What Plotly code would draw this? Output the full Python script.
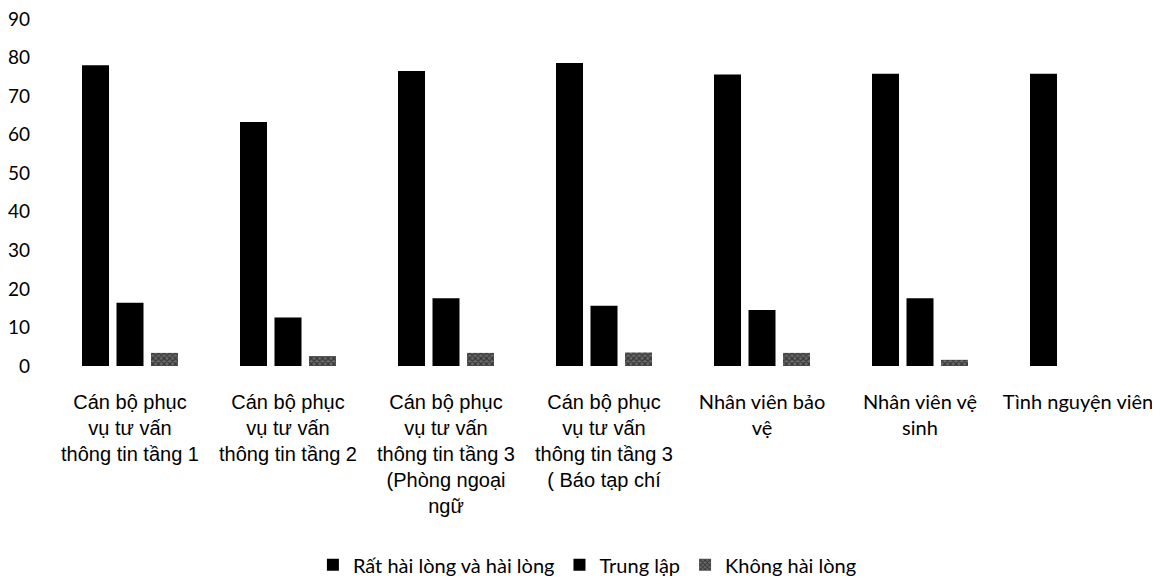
import plotly.graph_objects as go

categories = [
    "Cán bộ phục<br>vụ tư vấn<br>thông tin tầng 1",
    "Cán bộ phục<br>vụ tư vấn<br>thông tin tầng 2",
    "Cán bộ phục<br>vụ tư vấn<br>thông tin tầng 3<br>(Phòng ngoại<br>ngữ",
    "Cán bộ phục<br>vụ tư vấn<br>thông tin tầng 3<br>( Báo tạp chí",
    "Nhân viên bảo<br>vệ",
    "Nhân viên vệ<br>sinh",
    "Tình nguyện viên",
]
series_names = ["Rất hài lòng và hài lòng", "Trung lập", "Không hài lòng"]
rat_hai_long = [78, 63.3, 76.5, 78.6, 75.6, 75.8, 75.8]
trung_lap = [16.4, 12.6, 17.6, 15.6, 14.5, 17.6, 0]
khong_hai_long = [3.4, 2.6, 3.4, 3.5, 3.4, 1.6, 0]
y_ticks = [0, 10, 20, 30, 40, 50, 60, 70, 80, 90]

x_idx = list(range(len(categories)))
# first four labels rendered in Arial-like font, the rest in a Calibri-like font
ticktext = [c if i < 4 else f'<span style="font-family:Lato;font-size:20px">{c}</span>'
            for i, c in enumerate(categories)]

fig = go.Figure()
fig.add_trace(go.Bar(x=x_idx, y=rat_hai_long, name=series_names[0],
                     marker=dict(color="#000000", line=dict(width=0))))
fig.add_trace(go.Bar(x=x_idx, y=trung_lap, name=series_names[1],
                     marker=dict(color="#000000", line=dict(width=0))))
fig.add_trace(go.Bar(x=x_idx, y=khong_hai_long, name=series_names[2],
                     marker=dict(color="#6a6a6a", line=dict(width=0),
                                 pattern=dict(shape="x", fgcolor="#000000",
                                              size=4, solidity=0.5))))

# page body has an 8px margin, so the figure is sized/offset to compensate
fig.update_layout(
    width=1152, height=577,
    paper_bgcolor="white", plot_bgcolor="white",
    margin=dict(l=43, r=3, t=11, b=219, autoexpand=False),
    barmode="group", bargap=0.345, bargroupgap=0.217,
    showlegend=True,
    legend=dict(orientation="h", x=0.485, xanchor="center", y=-0.573, yanchor="middle",
                font=dict(family="Lato", size=20, color="#000000"),
                itemwidth=30, traceorder="normal"),
    font=dict(family="Liberation Sans", color="#000000"),
)
fig.update_xaxes(
    tickmode="array", tickvals=x_idx, ticktext=ticktext,
    range=[-0.5, len(categories) - 0.5],
    showgrid=False, showline=False, zeroline=False, ticks="",
    tickfont=dict(family="Liberation Sans", size=20, color="#000000"),
    tickangle=0, ticklabelstandoff=22, automargin=False,
    ticklabeloverflow="allow",
)
fig.update_yaxes(
    range=[0, 90], tickmode="array", tickvals=y_ticks,
    showgrid=False, showline=False, zeroline=False, ticks="",
    tickfont=dict(family="Lato", size=19, color="#000000"),
    ticklabelstandoff=20, automargin=False,
    ticklabeloverflow="allow",
)

fig.write_html("out.html")
